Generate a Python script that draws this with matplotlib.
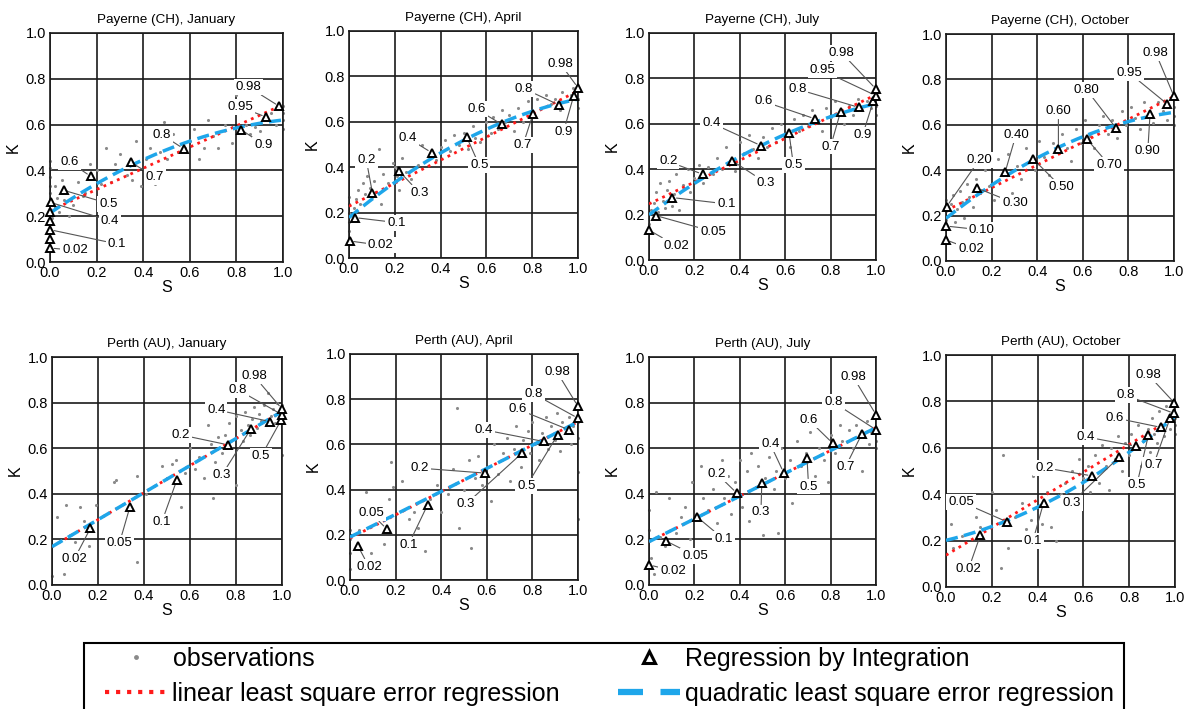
import numpy as np
import matplotlib.pyplot as plt
from matplotlib.lines import Line2D
from matplotlib.patches import Rectangle

plt.rcParams['font.family'] = ['Liberation Sans', 'DejaVu Sans']

# observations (S, K), one list per panel
obs_pay_jan = [(0, 0.17), (0, 0.21), (0, 0.25), (0, 0.3), (0, 0.33), (0, 0.37), (0, 0.41), (0, 0.44),
               (0.01, 0.19), (0.02, 0.24), (0.03, 0.28), (0.02, 0.33), (0.04, 0.22), (0.05, 0.36), (0.06, 0.27),
               (0.07, 0.31), (0.08, 0.2), (0.1, 0.25), (0.12, 0.35), (0.09, 0.42), (0.14, 0.29), (0.15, 0.3),
               (0.17, 0.43), (0.2, 0.4), (0.22, 0.34), (0.24, 0.5), (0.26, 0.35), (0.28, 0.43), (0.3, 0.47),
               (0.33, 0.38), (0.35, 0.36), (0.37, 0.53), (0.39, 0.33), (0.41, 0.45), (0.43, 0.5), (0.45, 0.34),
               (0.47, 0.48), (0.49, 0.61), (0.5, 0.45), (0.53, 0.56), (0.55, 0.48), (0.58, 0.5), (0.6, 0.53),
               (0.62, 0.58), (0.64, 0.45), (0.66, 0.5), (0.68, 0.62), (0.7, 0.55), (0.72, 0.5), (0.75, 0.6),
               (0.78, 0.52), (0.8, 0.73), (0.82, 0.65), (0.84, 0.6), (0.86, 0.56), (0.88, 0.59), (0.9, 0.57),
               (0.92, 0.62), (0.95, 0.65), (0.97, 0.6), (1.0, 0.58), (1.0, 0.62), (1.0, 0.65), (1.0, 0.68)]
obs_pay_apr = [(0, 0.07), (0, 0.12), (0, 0.16), (0, 0.2), (0, 0.24), (0, 0.27), (0.02, 0.22), (0.03, 0.26),
               (0.04, 0.3), (0.05, 0.24), (0.06, 0.33), (0.07, 0.28), (0.08, 0.36), (0.09, 0.31), (0.1, 0.27),
               (0.11, 0.34), (0.12, 0.29), (0.13, 0.48), (0.14, 0.24), (0.15, 0.37), (0.17, 0.33), (0.19, 0.42),
               (0.2, 0.4), (0.21, 0.36), (0.22, 0.3), (0.23, 0.44), (0.25, 0.38), (0.27, 0.35), (0.3, 0.41),
               (0.32, 0.5), (0.35, 0.45), (0.38, 0.43), (0.4, 0.49), (0.42, 0.52), (0.44, 0.47), (0.46, 0.54),
               (0.48, 0.5), (0.5, 0.55), (0.52, 0.48), (0.54, 0.58), (0.55, 0.53), (0.57, 0.51), (0.6, 0.6),
               (0.62, 0.55), (0.63, 0.62), (0.65, 0.57), (0.67, 0.65), (0.68, 0.6), (0.7, 0.63), (0.72, 0.56),
               (0.74, 0.66), (0.76, 0.6), (0.78, 0.69), (0.8, 0.64), (0.82, 0.7), (0.84, 0.66), (0.86, 0.72),
               (0.88, 0.68), (0.9, 0.7), (0.92, 0.65), (0.93, 0.73), (0.95, 0.69), (0.97, 0.72), (0.98, 0.75),
               (1.0, 0.66), (1.0, 0.7), (1.0, 0.74)]
obs_pay_jul = [(0, 0.12), (0, 0.16), (0.01, 0.22), (0.02, 0.25), (0.03, 0.3), (0.04, 0.21), (0.05, 0.34),
               (0.06, 0.26), (0.07, 0.23), (0.08, 0.31), (0.09, 0.35), (0.1, 0.24), (0.11, 0.29), (0.12, 0.38),
               (0.13, 0.22), (0.15, 0.33), (0.17, 0.4), (0.18, 0.3), (0.2, 0.36), (0.22, 0.42), (0.24, 0.34),
               (0.26, 0.41), (0.28, 0.38), (0.3, 0.45), (0.32, 0.4), (0.34, 0.5), (0.36, 0.44), (0.38, 0.39),
               (0.4, 0.52), (0.42, 0.47), (0.44, 0.55), (0.46, 0.49), (0.48, 0.45), (0.5, 0.54), (0.52, 0.5),
               (0.54, 0.58), (0.56, 0.52), (0.58, 0.6), (0.6, 0.55), (0.62, 0.5), (0.64, 0.62), (0.66, 0.57),
               (0.68, 0.64), (0.7, 0.59), (0.72, 0.66), (0.74, 0.61), (0.76, 0.57), (0.78, 0.67), (0.8, 0.63),
               (0.82, 0.7), (0.84, 0.65), (0.86, 0.6), (0.88, 0.68), (0.9, 0.64), (0.92, 0.71), (0.94, 0.66),
               (0.96, 0.7), (0.98, 0.67), (1.0, 0.64), (1.0, 0.68), (1.0, 0.72)]
obs_pay_oct = [(0, 0.1), (0, 0.14), (0, 0.18), (0, 0.22), (0, 0.27), (0.01, 0.2), (0.02, 0.25), (0.03, 0.29),
               (0.04, 0.17), (0.05, 0.23), (0.06, 0.31), (0.07, 0.26), (0.08, 0.19), (0.09, 0.34), (0.1, 0.28),
               (0.12, 0.24), (0.13, 0.36), (0.15, 0.3), (0.17, 0.4), (0.19, 0.33), (0.21, 0.27), (0.23, 0.45),
               (0.25, 0.38), (0.27, 0.47), (0.29, 0.3), (0.31, 0.42), (0.33, 0.36), (0.35, 0.5), (0.37, 0.44),
               (0.39, 0.4), (0.41, 0.53), (0.43, 0.46), (0.45, 0.38), (0.47, 0.52), (0.49, 0.48), (0.51, 0.56),
               (0.53, 0.5), (0.55, 0.44), (0.57, 0.58), (0.59, 0.52), (0.61, 0.62), (0.63, 0.55), (0.65, 0.5),
               (0.67, 0.6), (0.69, 0.64), (0.71, 0.56), (0.73, 0.62), (0.75, 0.54), (0.77, 0.66), (0.79, 0.6),
               (0.81, 0.68), (0.83, 0.63), (0.85, 0.58), (0.87, 0.7), (0.89, 0.65), (0.91, 0.61), (0.93, 0.7),
               (0.95, 0.66), (0.97, 0.62), (1.0, 0.6), (1.0, 0.64), (1.0, 0.68)]
obs_per_jan = [(0.0, 0.04), (0.02, 0.3), (0.05, 0.05), (0.06, 0.35), (0.08, 0.22), (0.1, 0.19), (0.12, 0.34),
               (0.14, 0.28), (0.16, 0.17), (0.19, 0.35), (0.27, 0.45), (0.28, 0.46), (0.37, 0.48), (0.37, 0.1),
               (0.41, 0.4), (0.48, 0.52), (0.5, 0.47), (0.52, 0.53), (0.54, 0.55), (0.56, 0.34), (0.58, 0.49),
               (0.6, 0.6), (0.62, 0.51), (0.64, 0.56), (0.66, 0.47), (0.68, 0.7), (0.69, 0.62), (0.7, 0.38),
               (0.71, 0.54), (0.72, 0.65), (0.74, 0.58), (0.75, 0.66), (0.76, 0.5), (0.77, 0.71), (0.78, 0.6),
               (0.8, 0.74), (0.8, 0.44), (0.82, 0.68), (0.83, 0.63), (0.84, 0.76), (0.85, 0.7), (0.86, 0.66),
               (0.87, 0.73), (0.88, 0.78), (0.89, 0.69), (0.9, 0.75), (0.91, 0.72), (0.92, 0.79), (0.93, 0.7),
               (0.94, 0.84), (0.95, 0.74), (0.96, 0.77), (0.97, 0.71), (0.98, 0.8), (0.99, 0.75), (1.0, 0.72),
               (1.0, 0.76), (1.0, 0.79), (1.0, 0.73), (1.0, 0.57)]
obs_per_apr = [(0.0, 0.05), (0.0, 0.12), (0.0, 0.18), (0.0, 0.22), (0.04, 0.22), (0.07, 0.39), (0.09, 0.12),
               (0.12, 0.3), (0.15, 0.16), (0.17, 0.36), (0.18, 0.52), (0.19, 0.41), (0.23, 0.44), (0.26, 0.27),
               (0.28, 0.3), (0.3, 0.23), (0.33, 0.13), (0.35, 0.36), (0.38, 0.42), (0.4, 0.3), (0.43, 0.38),
               (0.45, 0.49), (0.47, 0.76), (0.48, 0.23), (0.5, 0.4), (0.52, 0.53), (0.53, 0.14), (0.55, 0.45),
               (0.56, 0.55), (0.58, 0.42), (0.6, 0.5), (0.62, 0.35), (0.63, 0.6), (0.65, 0.47), (0.67, 0.56),
               (0.69, 0.63), (0.7, 0.44), (0.72, 0.58), (0.73, 0.68), (0.75, 0.5), (0.76, 0.62), (0.78, 0.66),
               (0.79, 0.56), (0.8, 0.7), (0.81, 0.6), (0.83, 0.53), (0.84, 0.65), (0.86, 0.72), (0.87, 0.58),
               (0.88, 0.68), (0.9, 0.62), (0.91, 0.74), (0.92, 0.57), (0.93, 0.7), (0.95, 0.65), (0.96, 0.72),
               (0.97, 0.6), (0.98, 0.68), (1.0, 0.7), (1.0, 0.63), (1.0, 0.48), (1.0, 0.27)]
obs_per_jul = [(0.0, 0.33), (0.0, 0.24), (0.01, 0.12), (0.02, 0.05), (0.03, 0.41), (0.05, 0.21), (0.07, 0.17),
               (0.09, 0.38), (0.12, 0.23), (0.14, 0.3), (0.16, 0.34), (0.18, 0.2), (0.19, 0.45), (0.21, 0.3),
               (0.23, 0.52), (0.24, 0.38), (0.26, 0.33), (0.28, 0.42), (0.3, 0.27), (0.32, 0.55), (0.33, 0.38),
               (0.35, 0.48), (0.36, 0.31), (0.38, 0.45), (0.4, 0.55), (0.41, 0.34), (0.43, 0.5), (0.44, 0.28),
               (0.45, 0.58), (0.47, 0.43), (0.48, 0.52), (0.5, 0.22), (0.51, 0.47), (0.53, 0.56), (0.55, 0.42),
               (0.56, 0.5), (0.57, 0.23), (0.58, 0.6), (0.6, 0.47), (0.62, 0.55), (0.63, 0.36), (0.65, 0.63),
               (0.67, 0.52), (0.69, 0.58), (0.71, 0.67), (0.73, 0.48), (0.75, 0.6), (0.77, 0.55), (0.79, 0.45),
               (0.8, 0.66), (0.82, 0.58), (0.84, 0.7), (0.85, 0.63), (0.87, 0.52), (0.88, 0.68), (0.9, 0.6),
               (0.91, 0.7), (0.93, 0.65), (0.94, 0.5), (0.96, 0.72), (0.97, 0.62), (0.98, 0.67), (1.0, 0.63),
               (1.0, 0.6)]
obs_per_oct = [(0.02, 0.27), (0.03, 0.17), (0.07, 0.22), (0.1, 0.38), (0.13, 0.3), (0.15, 0.26), (0.2, 0.41),
               (0.22, 0.33), (0.24, 0.08), (0.25, 0.57), (0.27, 0.17), (0.3, 0.3), (0.33, 0.36), (0.35, 0.25),
               (0.37, 0.29), (0.38, 0.48), (0.4, 0.35), (0.42, 0.27), (0.44, 0.41), (0.46, 0.26), (0.48, 0.2),
               (0.5, 0.4), (0.52, 0.45), (0.55, 0.5), (0.57, 0.38), (0.58, 0.55), (0.6, 0.47), (0.62, 0.52),
               (0.63, 0.41), (0.65, 0.57), (0.67, 0.45), (0.68, 0.61), (0.7, 0.52), (0.71, 0.42), (0.72, 0.6),
               (0.74, 0.55), (0.75, 0.65), (0.77, 0.5), (0.78, 0.62), (0.8, 0.57), (0.81, 0.66), (0.83, 0.6),
               (0.84, 0.7), (0.85, 0.52), (0.86, 0.63), (0.88, 0.68), (0.89, 0.58), (0.9, 0.73), (0.91, 0.66),
               (0.92, 0.62), (0.93, 0.76), (0.94, 0.7), (0.95, 0.65), (0.96, 0.78), (0.97, 0.72), (0.98, 0.68),
               (0.99, 0.75), (1.0, 0.7), (1.0, 0.66), (1.0, 0.73)]

# regression by integration: probability level, S, K
lev_pay_jan = ['0.02', '0.05', '0.1', '0.2', '0.3', '0.4', '0.5', '0.6', '0.7', '0.8', '0.9', '0.95', '0.98']
s_pay_jan = [0.0, 0.0, 0.0, 0.0, 0.0, 0.003, 0.06, 0.175, 0.348, 0.573, 0.82, 0.927, 0.984]
k_pay_jan = [0.061, 0.1, 0.141, 0.18, 0.22, 0.26, 0.313, 0.374, 0.435, 0.495, 0.578, 0.633, 0.68]
lev_pay_apr = ['0.02', '0.1', '0.2', '0.3', '0.4', '0.5', '0.6', '0.7', '0.8', '0.9', '0.98']
s_pay_apr = [0.003, 0.025, 0.102, 0.219, 0.361, 0.514, 0.667, 0.803, 0.915, 0.981, 1.0]
k_pay_apr = [0.075, 0.178, 0.288, 0.383, 0.464, 0.533, 0.589, 0.633, 0.675, 0.714, 0.75]
lev_pay_jul = ['0.02', '0.05', '0.1', '0.2', '0.3', '0.4', '0.5', '0.6', '0.7', '0.8', '0.9', '0.95', '0.98']
s_pay_jul = [0.0, 0.029, 0.103, 0.236, 0.367, 0.493, 0.617, 0.731, 0.844, 0.925, 0.988, 1.0, 1.0]
k_pay_jul = [0.132, 0.196, 0.275, 0.378, 0.437, 0.504, 0.559, 0.622, 0.654, 0.672, 0.699, 0.724, 0.753]
lev_pay_oct = ['0.02', '0.10', '0.20', '0.30', '0.40', '0.50', '0.60', '0.70', '0.80', '0.90', '0.95', '0.98']
s_pay_oct = [0.0, 0.0, 0.003, 0.137, 0.259, 0.383, 0.493, 0.617, 0.746, 0.895, 0.971, 1.0]
k_pay_oct = [0.093, 0.154, 0.24, 0.321, 0.39, 0.449, 0.494, 0.538, 0.585, 0.649, 0.691, 0.725]
lev_per_jan = ['0.02', '0.05', '0.1', '0.2', '0.3', '0.4', '0.5', '0.8', '0.98']
s_per_jan = [0.167, 0.338, 0.543, 0.764, 0.865, 0.946, 0.997, 1.0, 1.0]
k_per_jan = [0.249, 0.34, 0.461, 0.615, 0.685, 0.717, 0.725, 0.747, 0.772]
lev_per_apr = ['0.02', '0.05', '0.1', '0.2', '0.3', '0.4', '0.5', '0.6', '0.8', '0.98']
s_per_apr = [0.034, 0.161, 0.34, 0.593, 0.754, 0.849, 0.911, 0.959, 1.0, 1.0]
k_per_apr = [0.152, 0.226, 0.332, 0.473, 0.561, 0.613, 0.643, 0.665, 0.716, 0.768]
lev_per_jul = ['0.02', '0.05', '0.1', '0.2', '0.3', '0.4', '0.5', '0.6', '0.7', '0.8', '0.98']
s_per_jul = [0.0, 0.075, 0.21, 0.387, 0.497, 0.593, 0.696, 0.809, 0.938, 1.0, 1.0]
k_per_jul = [0.088, 0.193, 0.3, 0.403, 0.449, 0.493, 0.559, 0.622, 0.663, 0.681, 0.747]
lev_per_oct = ['0.02', '0.05', '0.1', '0.2', '0.3', '0.4', '0.5', '0.6', '0.7', '0.8', '0.98']
s_per_oct = [0.15, 0.266, 0.426, 0.637, 0.757, 0.828, 0.884, 0.939, 0.978, 0.997, 0.997]
k_per_oct = [0.223, 0.281, 0.363, 0.479, 0.561, 0.607, 0.655, 0.688, 0.727, 0.748, 0.794]

# least square fits: linear (a, b), quadratic (a, b, c)
lin_pay_jan, quad_pay_jan = (0.224, 0.463), (0.214, 0.698, -0.292)
lin_pay_apr, quad_pay_apr = (0.228, 0.508), (0.178, 0.838, -0.316)
lin_pay_jul, quad_pay_jul = (0.247, 0.481), (0.199, 0.742, -0.252)
lin_pay_oct, quad_pay_oct = (0.222, 0.503), (0.188, 0.797, -0.33)
lin_per_jan, quad_per_jan = (0.168, 0.593), (0.168, 0.593, 0.0)
lin_per_apr, quad_per_apr = (0.185, 0.515), (0.19, 0.5, 0.01)
lin_per_jul, quad_per_jul = (0.19, 0.5), (0.19, 0.5, 0.0)
lin_per_oct, quad_per_oct = (0.137, 0.597), (0.201, 0.24, 0.294)

titles = ['Payerne (CH), January', 'Payerne (CH), April', 'Payerne (CH), July', 'Payerne (CH), October',
          'Perth (AU), January', 'Perth (AU), April', 'Perth (AU), July', 'Perth (AU), October']

# label placement for the level annotations (None = no label)
pos_pay_jan = [(0.107, 0.051), None, (0.287, 0.079), None, None, (0.258, 0.18), (0.251, 0.255), (0.083, 0.437),
               (0.451, 0.371), (0.48, 0.556), (0.917, 0.512), (0.817, 0.677), (0.852, 0.764)]
pos_pay_apr = [(0.139, 0.056), (0.207, 0.156), (0.076, 0.43), (0.307, 0.288), (0.255, 0.53), (0.569, 0.408),
               (0.558, 0.655), (0.759, 0.496), (0.765, 0.746), (0.937, 0.557), (0.923, 0.856)]
pos_pay_jul = [(0.119, 0.063), (0.283, 0.125), (0.342, 0.247), (0.085, 0.434), (0.514, 0.341), (0.276, 0.603),
               (0.636, 0.419), (0.504, 0.699), (0.8, 0.5), (0.653, 0.753), (0.941, 0.551), (0.764, 0.835),
               (0.849, 0.912)]
pos_pay_oct = [(0.11, 0.051), (0.156, 0.137), (0.146, 0.446), (0.303, 0.254), (0.307, 0.556), (0.507, 0.324),
               (0.493, 0.659), (0.715, 0.424), (0.617, 0.754), (0.885, 0.485), (0.804, 0.828), (0.92, 0.916)]
pos_per_jan = [(0.097, 0.114), (0.293, 0.183), (0.478, 0.278), (0.558, 0.659), (0.739, 0.483), (0.714, 0.769),
               (0.909, 0.564), (0.807, 0.857), (0.88, 0.915)]
pos_per_apr = [(0.083, 0.059), (0.092, 0.295), (0.256, 0.155), (0.307, 0.495), (0.508, 0.335), (0.586, 0.665),
               (0.773, 0.414), (0.736, 0.756), (0.805, 0.824), (0.908, 0.92)]
pos_per_jul = [(0.107, 0.063), (0.203, 0.129), (0.328, 0.202), (0.299, 0.488), (0.493, 0.318), (0.534, 0.619),
               (0.703, 0.432), (0.703, 0.725), (0.865, 0.517), (0.813, 0.801), (0.9, 0.912)]
pos_per_oct = [(0.099, 0.079), (0.067, 0.367), (0.379, 0.197), (0.429, 0.514), (0.549, 0.363), (0.612, 0.647),
               (0.833, 0.439), (0.738, 0.729), (0.906, 0.525), (0.785, 0.827), (0.884, 0.914)]

panels = [
    (obs_pay_jan, lev_pay_jan, s_pay_jan, k_pay_jan, pos_pay_jan, lin_pay_jan, quad_pay_jan),
    (obs_pay_apr, lev_pay_apr, s_pay_apr, k_pay_apr, pos_pay_apr, lin_pay_apr, quad_pay_apr),
    (obs_pay_jul, lev_pay_jul, s_pay_jul, k_pay_jul, pos_pay_jul, lin_pay_jul, quad_pay_jul),
    (obs_pay_oct, lev_pay_oct, s_pay_oct, k_pay_oct, pos_pay_oct, lin_pay_oct, quad_pay_oct),
    (obs_per_jan, lev_per_jan, s_per_jan, k_per_jan, pos_per_jan, lin_per_jan, quad_per_jan),
    (obs_per_apr, lev_per_apr, s_per_apr, k_per_apr, pos_per_apr, lin_per_apr, quad_per_apr),
    (obs_per_jul, lev_per_jul, s_per_jul, k_per_jul, pos_per_jul, lin_per_jul, quad_per_jul),
    (obs_per_oct, lev_per_oct, s_per_oct, k_per_oct, pos_per_oct, lin_per_oct, quad_per_oct),
]

# axes boxes in pixels: left, right, top, bottom
W, H = 1192, 709
boxes = [(50, 283, 33, 262), (349, 578, 31, 258), (649, 876, 33, 260), (946, 1174, 34, 261),
         (52, 282, 357, 585), (350, 578, 354, 580), (649, 876, 357, 585), (946, 1175, 355, 587)]

RED = '#ff1a1a'
BLUE = '#1ea6ea'
GREY = '#8a8a8a'

fig = plt.figure(figsize=(W / 100, H / 100), dpi=100)
ss = np.linspace(0, 1, 200)

for (obs, lev, s, k, pos, lin, quad), title, (x0, x1, yt, yb) in zip(panels, titles, boxes):
    ax = fig.add_axes([x0 / W, 1 - yb / H, (x1 - x0) / W, (yb - yt) / H])
    ax.set_xlim(0, 1)
    ax.set_ylim(0, 1)
    ticks = np.arange(0, 1.01, 0.2)
    ax.set_xticks(ticks)
    ax.set_yticks(ticks)
    ax.set_xticklabels([f'{t:.1f}' for t in ticks])
    ax.set_yticklabels([f'{t:.1f}' for t in ticks])
    ax.tick_params(length=0, labelsize=10.5, pad=3)
    ax.grid(True, color='#1a1a1a', lw=1.2)
    ax.set_axisbelow(True)
    for sp in ax.spines.values():
        sp.set_color('#1a1a1a')
        sp.set_linewidth(1.2)
    ax.set_title(title, fontsize=9.7, pad=7)
    ax.set_xlabel('S', fontsize=11.5, labelpad=0)
    ax.set_ylabel('K', fontsize=11.5, labelpad=3)

    os_ = [p[0] for p in obs]
    ok_ = [p[1] for p in obs]
    ax.scatter(os_, ok_, s=5, color=GREY, linewidths=0, zorder=2, clip_on=False)

    ax.plot(ss, lin[0] + lin[1] * ss, color=RED, ls=':', lw=2, zorder=3)
    qline, = ax.plot(ss, quad[0] + quad[1] * ss + quad[2] * ss ** 2, color=BLUE, lw=2.5, zorder=4)
    qline.set_dashes((3.5, 1.8))

    ax.plot(s, k, '^', ms=6, mfc='white', mec='black', mew=1.4, zorder=6, clip_on=False)

    for name, sx, ky, p in zip(lev, s, k, pos):
        if p is None:
            continue
        ax.annotate(name, xy=(sx, ky), xytext=p, fontsize=9.5, ha='center', va='center',
                    bbox=dict(boxstyle='square,pad=0.15', fc='white', ec='none'),
                    arrowprops=dict(arrowstyle='-', color='#555555', lw=0.8, shrinkA=0, shrinkB=3),
                    zorder=5, annotation_clip=False)

# legend box runs off the bottom edge like in the source figure
fig.patches.append(Rectangle((84 / W, -0.01), (1124 - 84) / W, (709 - 643) / H + 0.01,
                             transform=fig.transFigure, fill=False, ec='black', lw=1.5))

handles = [
    Line2D([], [], ls='none', marker='o', ms=3.5, color=GREY, mec='none'),
    Line2D([], [], color=RED, ls=':', lw=3),
    Line2D([], [], ls='none', marker='^', ms=9, mfc='white', mec='black', mew=2.2),
    Line2D([], [], color=BLUE, lw=4.5, dashes=(4, 2.8)),
]
labels = ['observations', 'linear least square error regression',
          'Regression by Integration', 'quadratic least square error regression']
fig.legend(handles, labels, ncol=2, loc='upper left', bbox_to_anchor=(105 / W, 1 - 647 / H),
           borderaxespad=0, fontsize=18, handlelength=2.5, handletextpad=0.2, columnspacing=2.3,
           labelspacing=0.42, frameon=False, borderpad=0)

fig.savefig('out.png', dpi=100)
